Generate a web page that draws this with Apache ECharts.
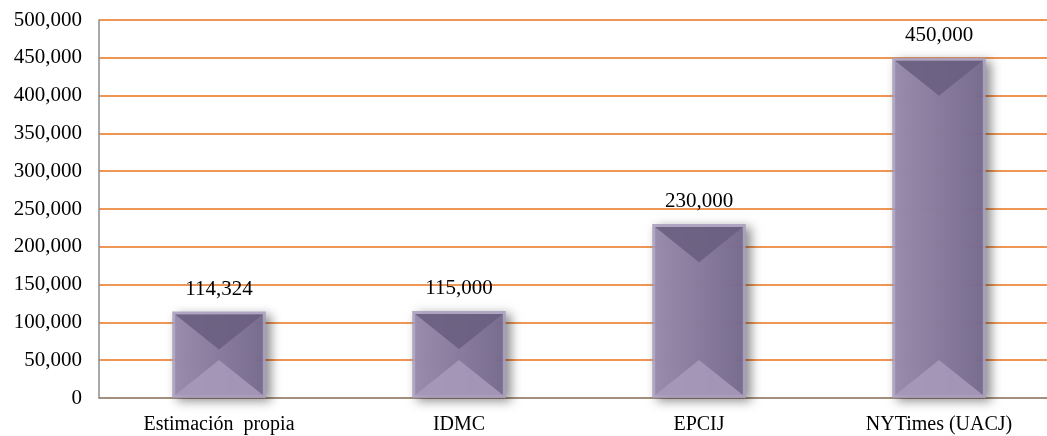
<!DOCTYPE html>
<html>
<head>
<meta charset="utf-8">
<script src="https://cdn.jsdelivr.net/npm/echarts@6/dist/echarts.min.js"></script>
<style>
  html, body { margin: 0; padding: 0; background: #fff; }
  #main { width: 1047px; height: 436px; }
</style>
</head>
<body>
<div id="main"></div>
<script>
var categories = ['Estimación  propia', 'IDMC', 'EPCIJ', 'NYTimes (UACJ)'];
var values = [114324, 115000, 230000, 450000];

var font = '"Liberation Serif", "Times New Roman", serif';
var fmt = function (v) { return Number(v).toLocaleString('en-US'); };

var myChart = echarts.init(document.getElementById('main'));

// beveled bar: light rim, shaded body, dark top and light bottom triangles
function renderBevel(params, api) {
  var idx = api.value(0);
  var val = api.value(1);
  var top = api.coord([idx, val]);
  var base = api.coord([idx, 0]);
  var w = api.size([1, 0])[0] * 0.39;
  var x0 = top[0] - w / 2, x1 = top[0] + w / 2;
  var y0 = top[1], y1 = base[1];
  var h = y1 - y0;
  var r = 3;
  var ix0 = x0 + r, ix1 = x1 - r, iy0 = y0 + r, iy1 = y1 - r;
  var d = Math.min((iy1 - iy0) / 2, (ix1 - ix0) * 0.4);
  var cx = top[0];
  var op = 0.88;
  return {
    type: 'group',
    children: [
      { type: 'rect', shape: { x: x0, y: y0, width: w, height: h },
        style: { fill: '#aa9ebd', opacity: op, shadowBlur: 10, shadowOffsetX: 5, shadowOffsetY: 3, shadowColor: 'rgba(0,0,0,0.5)' } },
      { type: 'rect', shape: { x: ix0, y: iy0, width: ix1 - ix0, height: iy1 - iy0 },
        style: { opacity: op, fill: new echarts.graphic.LinearGradient(0, 0, 1, 0, [
          { offset: 0, color: '#968aab' },
          { offset: 0.35, color: '#8a7d9f' },
          { offset: 1, color: '#72668a' }
        ]) } },
      { type: 'polygon', shape: { points: [[ix0, iy0], [ix1, iy0], [cx, iy0 + d]] },
        style: { fill: '#6a5e7f', opacity: op } },
      { type: 'polygon', shape: { points: [[ix0, iy1], [ix1, iy1], [cx, iy1 - d]] },
        style: { fill: '#a79abb', opacity: op } },
      { type: 'text', x: cx, y: y0 - 12,
        style: { text: fmt(val), fill: '#000', font: '21px ' + font, textAlign: 'center', textVerticalAlign: 'bottom' } }
    ]
  };
}

var option = {
  animation: false,
  grid: { left: 99, width: 960, top: 20, bottom: 38, outerBoundsMode: 'none', containLabel: false },
  xAxis: {
    type: 'category',
    data: categories,
    axisLine: { lineStyle: { color: '#8c8c8c', width: 1.5 } },
    axisTick: { show: false },
    axisLabel: { color: '#000', fontFamily: font, fontSize: 20, margin: 17 }
  },
  yAxis: {
    type: 'value',
    min: 0,
    max: 500000,
    interval: 50000,
    axisLine: { show: true, lineStyle: { color: '#8c8c8c', width: 1.5 } },
    axisTick: { show: false },
    splitLine: { lineStyle: { color: '#e8731c', width: 1.5 } },
    axisLabel: { color: '#000', fontFamily: font, fontSize: 21, margin: 17, formatter: fmt }
  },
  series: [{
    type: 'custom',
    renderItem: renderBevel,
    encode: { x: 0, y: 1 },
    data: values.map(function (v, i) { return [i, v]; })
  }]
};
myChart.setOption(option);
</script>
</body>
</html>
